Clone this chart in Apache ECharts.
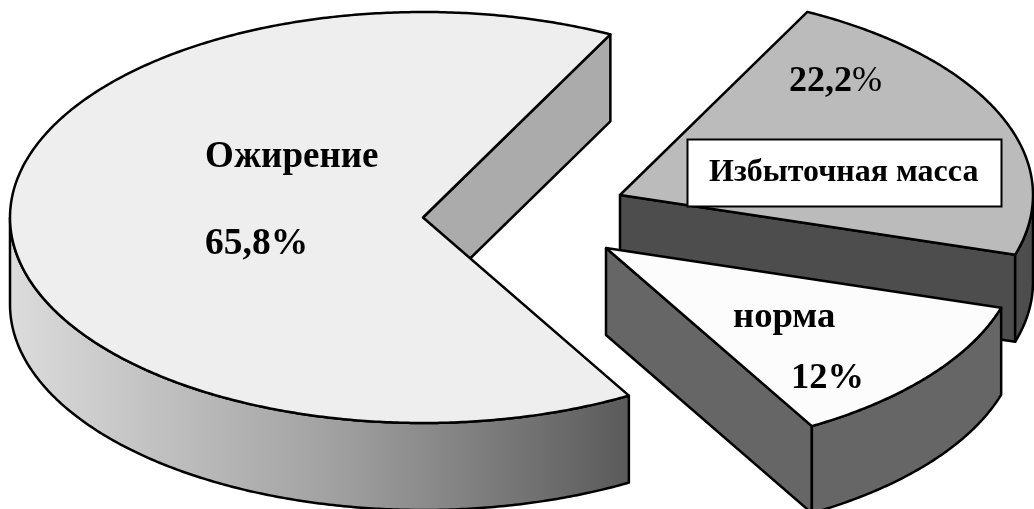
<!DOCTYPE html>
<html>
<head>
<meta charset="utf-8">
<style>html,body{margin:0;padding:0;background:#fff}#chart{width:1034px;height:509px}</style>
<script src="https://cdn.jsdelivr.net/npm/echarts@6/dist/echarts.min.js"></script>
</head>
<body>
<div id="chart"></div>
<script>
// Body-weight groups and their shares, in percent
const categories = ['Ожирение', 'Избыточная масса', 'норма'];
const shares = [65.8, 22.2, 12];

// Slice appearance, in the order of the categories
const topColors = ['#eeeeee', '#bbbbbb', '#fcfcfc'];
const cutColors = ['#ababab', '#4d4d4d', '#666666'];

// Pie geometry: the unit circle is projected onto an ellipse by the hidden axes
const WIDTH = 1034, HEIGHT = 509;
const RX = 413, RY = 205.5, CX = 423, CY = 217.5;
const THICKNESS = 87 / RY;
const START_ANGLE = 60.1;
const explode = [[0, 0], [197 / RX, -22.5 / RY], [183 / RX, 30.5 / RY]];

const total = shares.reduce((a, b) => a + b, 0);
const rad = d => d * Math.PI / 180;

function sliceRange(i) {
  const before = shares.slice(0, i).reduce((a, b) => a + b, 0);
  return [START_ANGLE + before / total * 360, START_ANGLE + (before + shares[i]) / total * 360];
}

function arcPoints(a0, a1, ox, oy, dy) {
  const n = Math.max(2, Math.ceil(Math.abs(a1 - a0) * 2));
  const pts = [];
  for (let k = 0; k <= n; k++) {
    const a = rad(a0 + (a1 - a0) * k / n);
    pts.push([ox + Math.cos(a), oy + Math.sin(a) + dy]);
  }
  return pts;
}

const percentText = v => String(v).replace('.', ',') + '%';
const wallGradient = new echarts.graphic.LinearGradient(0, 0, 1, 0, [
  { offset: 0, color: '#dcdcdc' },
  { offset: 0.53, color: '#a0a0a0' },
  { offset: 1, color: '#5a5a5a' }
]);

function renderSlice(params, api) {
  const i = params.dataIndex;
  const [a0, a1] = sliceRange(i);
  const [ox, oy] = explode[i];
  const toPx = pts => pts.map(p => api.coord(p));
  const line = { stroke: '#000', lineWidth: 2.5, lineJoin: 'round' };
  const children = [];

  // Flat cut face along the closing edge of the slice, when it faces the viewer
  if (Math.cos(rad(a1)) > 0) {
    const ex = ox + Math.cos(rad(a1)), ey = oy + Math.sin(rad(a1));
    children.push({
      type: 'polygon',
      shape: { points: toPx([[ox, oy], [ex, ey], [ex, ey + THICKNESS], [ox, oy + THICKNESS]]) },
      style: { fill: cutColors[i], ...line }
    });
  }

  // Rim of the slice: only the arc on the near half of the ellipse shows
  [[0, 180], [360, 540]].forEach(([lo, hi]) => {
    const from = Math.max(a0, lo), to = Math.min(a1, hi);
    if (to > from) {
      const upper = arcPoints(from, to, ox, oy, 0);
      const lower = arcPoints(to, from, ox, oy, THICKNESS);
      children.push({
        type: 'polygon',
        shape: { points: toPx(upper.concat(lower)) },
        style: { fill: i === 0 ? wallGradient : cutColors[i], ...line }
      });
    }
  });

  // Top face
  children.push({
    type: 'polygon',
    shape: { points: toPx([[ox, oy]].concat(arcPoints(a0, a1, ox, oy, 0))) },
    style: { fill: topColors[i], ...line }
  });

  return { type: 'group', children };
}

const serif = '"Liberation Serif", "Times New Roman", serif';
const labelStyle = (text, x, bottom, size) => ({
  type: 'text', x, y: bottom,
  style: { text, fontFamily: serif, fontWeight: 'bold', fontSize: size, fill: '#000', align: 'left', verticalAlign: 'bottom', lineHeight: size },
  z: 10
});

const chart = echarts.init(document.getElementById('chart'), null, { renderer: 'canvas' });
chart.setOption({
  animation: false,
  backgroundColor: '#ffffff',
  grid: { left: 0, right: 0, top: 0, bottom: 0 },
  xAxis: { type: 'value', show: false, min: -CX / RX, max: (WIDTH - CX) / RX },
  yAxis: { type: 'value', show: false, inverse: true, min: -CY / RY, max: (HEIGHT - CY) / RY },
  series: [{
    type: 'custom',
    coordinateSystem: 'cartesian2d',
    clip: false,
    silent: true,
    renderItem: renderSlice,
    data: categories.map((name, i) => ({ name, value: [i, shares[i]] }))
  }],
  graphic: [
    labelStyle(categories[0], 205, 176, 37),
    labelStyle(percentText(shares[0]), 205, 263, 37.5),
    {
      type: 'text', x: 789, y: 82, z: 10,
      style: {
        text: '{b|' + percentText(shares[1]).slice(0, -1) + '}{r|%}',
        verticalAlign: 'middle',
        rich: {
          b: { fontFamily: serif, fontWeight: 'bold', fontSize: 36, fill: '#000' },
          r: { fontFamily: serif, fontWeight: 'normal', fontSize: 36, fill: '#000' }
        }
      }
    },
    {
      type: 'rect', z: 9,
      shape: { x: 687.5, y: 139.5, width: 314, height: 67 },
      style: { fill: '#fff', stroke: '#000', lineWidth: 2 }
    },
    labelStyle(categories[1], 709, 189, 32),
    labelStyle(categories[2], 733, 336, 36.7),
    labelStyle(percentText(shares[2]), 791, 397, 36.5)
  ]
});
</script>
</body>
</html>
